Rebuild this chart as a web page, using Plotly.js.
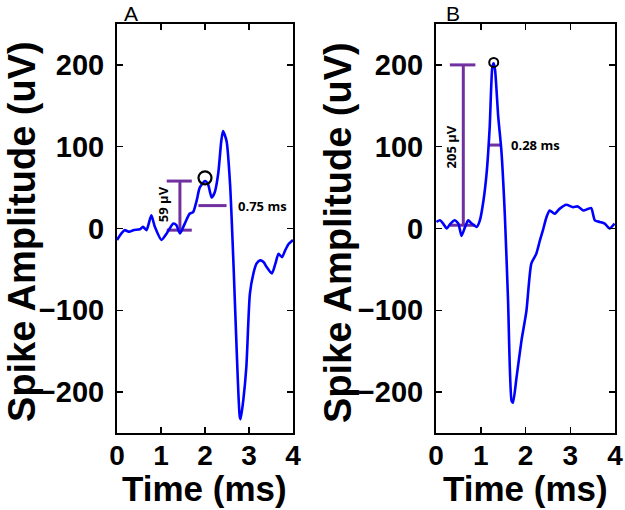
<!DOCTYPE html>
<html><head><meta charset="utf-8">
<script src="https://cdn.plot.ly/plotly-3.0.1.min.js"></script>
<style>html,body{margin:0;padding:0;background:#fff}#c{width:625px;height:510px}</style>
</head><body><div id="c"></div>
<script>
// Panel A waveform
const timeA = [0.0,0.1,0.17,0.28,0.37,0.52,0.59,0.67,0.78,0.86,1.01,1.13,1.28,1.35,1.43,1.54,1.65,1.73,1.81,1.88,2.0,2.07,2.15,2.22,2.3,2.37,2.41,2.49,2.57,2.65,2.72,2.79,2.81,2.87,2.94,3.02,3.1,3.17,3.25,3.33,3.4,3.52,3.6,3.67,3.75,3.82,3.9,4.0];
const ampA  = [-14,-6,-2,-4,-2,-1,2,-2,16,2,-14,-6,6,4,-6,6,18,20,34,50,58,54,38,44,67,107,119,107,54,-47,-149,-230,-233,-210,-169,-80,-55,-43,-39,-41,-47,-55,-43,-31,-35,-27,-19,-14];
// Panel B waveform
const timeB = [0.01,0.09,0.16,0.24,0.31,0.42,0.5,0.57,0.65,0.72,0.8,0.91,0.98,1.06,1.13,1.2,1.26,1.29,1.32,1.39,1.46,1.54,1.61,1.69,1.72,1.8,1.91,2.02,2.13,2.24,2.32,2.39,2.47,2.54,2.65,2.76,2.91,3.06,3.17,3.29,3.4,3.47,3.55,3.66,3.77,3.88,3.99];
const ampB  = [8,10,6,0,5,10,6,-9,2,10,6,2,10,34,67,124,198,202,194,137,96,14,-88,-211,-213,-182,-137,-101,-43,-31,-15,-2,14,22,18,24,29,26,27,22,24,25,10,8,6,0,6];

// Tick values / labels
const timeTicks = [0,1,2,3,4];
const ampTicks = [-200,-100,0,100,200];
const ampTickText = ['−200','−100','0','100','200'];

// Annotations: amplitude bars, width bars, peak markers
const ampBarA = {x:1.43, y0:-2, y1:58, cap0:1.13, cap1:1.70, label:"59 μV", labelX:1.05, labelY:30};
const widthBarA = {y:28, x0:1.85, x1:2.49, label:"0.75 ms", labelX:2.70};
const peakA = {x:[2.0], y:[62]};
const ampBarB = {x:0.61, y0:4, y1:200, cap0:0.31, cap1:0.88, label:"205 μV", labelX:0.33, labelY:100};
const widthBarB = {y:102, x0:1.17, x1:1.46, label:"0.28 ms", labelX:1.62};
const peakB = {x:[1.29], y:[203]};

const purple = '#7030a0';
const blue = '#0000ff';
function bars(b, xa, ya){
  return [
    {x:[b.x,b.x], y:[b.y0,b.y1], xaxis:xa, yaxis:ya, mode:'lines', line:{color:purple,width:3}},
    {x:[b.cap0,b.cap1], y:[b.y1,b.y1], xaxis:xa, yaxis:ya, mode:'lines', line:{color:purple,width:3}},
    {x:[b.cap0,b.cap1], y:[b.y0,b.y0], xaxis:xa, yaxis:ya, mode:'lines', line:{color:purple,width:3}}
  ];
}
function wbar(w, xa, ya){
  return {x:[w.x0,w.x1], y:[w.y,w.y], xaxis:xa, yaxis:ya, mode:'lines', line:{color:purple,width:3}};
}
const data = [
  ...bars(ampBarA,'x','y'), wbar(widthBarA,'x','y'),
  {x:timeA, y:ampA, xaxis:'x', yaxis:'y', mode:'lines', line:{color:blue,width:2.6,shape:'spline',smoothing:0.6}},
  {x:peakA.x, y:peakA.y, xaxis:'x', yaxis:'y', mode:'markers', marker:{symbol:'circle-open',size:13,color:'#000',line:{width:2.2,color:'#000'}}},
  ...bars(ampBarB,'x2','y2'), wbar(widthBarB,'x2','y2'),
  {x:timeB, y:ampB, xaxis:'x2', yaxis:'y2', mode:'lines', line:{color:blue,width:2.6,shape:'spline',smoothing:0.6}},
  {x:peakB.x, y:peakB.y, xaxis:'x2', yaxis:'y2', mode:'markers', marker:{symbol:'circle-open',size:9,color:'#000',line:{width:2,color:'#000'}}}
];

const tickFont = {family:'Liberation Sans, Arial, sans-serif', size:29, color:'#000', weight:'bold'};
const xTickFont = {family:'Liberation Sans, Arial, sans-serif', size:28, color:'#000', weight:'bold'};
const xCommon = {range:[0,4], tickvals:timeTicks, ticks:'inside', ticklen:6, tickwidth:1.5, tickcolor:'#000', ticklabelstandoff:-4,
  showline:true, linewidth:2, linecolor:'#000', mirror:'ticks', showgrid:false, zeroline:false, tickfont:xTickFont, fixedrange:true};
const yCommon = {range:[-250,250], tickvals:ampTicks, ticktext:ampTickText,
  ticks:'inside', ticklen:6, tickwidth:1.5, tickcolor:'#000', ticklabelstandoff:5,
  showline:true, linewidth:2, linecolor:'#000', mirror:'ticks', showgrid:false, zeroline:false, tickfont:tickFont, fixedrange:true};

const W=625, H=510;
const dA=[117/W, 293/W], dB=[436/W, 615/W], dy=[(H-433)/H, (H-24)/H];
const annFont = {family:'Open Sans, DejaVu Sans, sans-serif', size:13, color:'#000', weight:'bold'};
const titleFont = {family:'Liberation Sans, Arial, sans-serif', size:38, color:'#000', weight:'bold'};
const xTitleFont = {family:'Liberation Sans, Arial, sans-serif', size:35, color:'#000', weight:'bold'};
const panelFont = {family:'Liberation Sans, Arial, sans-serif', size:21, color:'#000'};
function pa(x, y, text, font, angle, ya){
  return {xref:'paper', yref:'paper', x:x/W, y:1-y/H, xanchor:'center', yanchor:ya||'middle', text:text, textangle:angle||0, showarrow:false, font:font, borderpad:0};
}
const layout = {
  width:W, height:H, margin:{l:0,r:0,t:0,b:0}, showlegend:false,
  paper_bgcolor:'#fff', plot_bgcolor:'#fff',
  xaxis:Object.assign({domain:dA, anchor:'y'}, xCommon),
  yaxis:Object.assign({domain:dy, anchor:'x'}, yCommon),
  xaxis2:Object.assign({domain:dB, anchor:'y2'}, xCommon),
  yaxis2:Object.assign({domain:dy, anchor:'x2'}, yCommon),
  annotations:[
    {xref:'x', yref:'y', x:ampBarA.labelX, y:ampBarA.labelY, xanchor:'center', yanchor:'middle', text:ampBarA.label, textangle:-90, showarrow:false, font:annFont},
    {xref:'x', yref:'y', x:widthBarA.labelX, y:widthBarA.y, text:widthBarA.label, xanchor:'left', yanchor:'middle', showarrow:false, font:annFont},
    {xref:'x2', yref:'y2', x:ampBarB.labelX, y:ampBarB.labelY, xanchor:'center', yanchor:'middle', text:ampBarB.label, textangle:-90, showarrow:false, font:annFont},
    {xref:'x2', yref:'y2', x:widthBarB.labelX, y:widthBarB.y, text:widthBarB.label, xanchor:'left', yanchor:'middle', showarrow:false, font:annFont},
    pa(131, 13, 'A', panelFont),
    pa(453, 13, 'B', panelFont),
    pa(22, 232, 'Spike Amplitude (uV)', titleFont, -90),
    pa(338, 232, 'Spike Amplitude (uV)', titleFont, -90),
    pa(204, 509, 'Time (ms)', xTitleFont, 0, 'bottom'),
    pa(525, 509, 'Time (ms)', xTitleFont, 0, 'bottom')
  ]
};
Plotly.newPlot('c', data, layout, {staticPlot:true, displayModeBar:false});
</script></body></html>
